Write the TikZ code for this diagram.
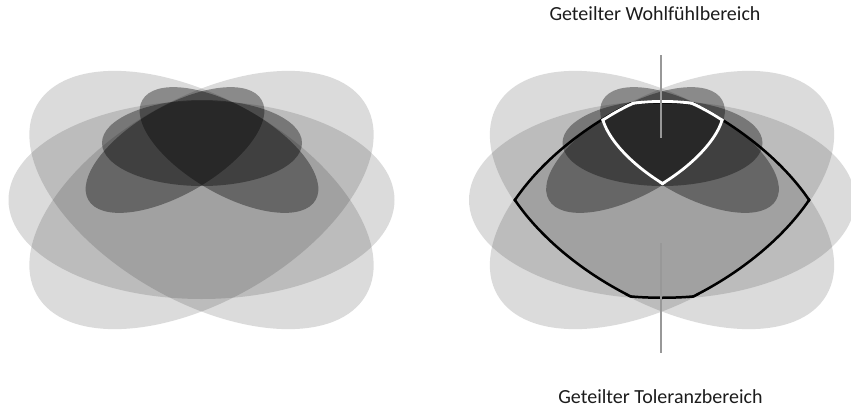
\documentclass[tikz,border=0pt]{standalone}
\usepackage{fontspec}
\setmainfont{Carlito}
\usepackage{tikz}
\definecolor{zoneink}{RGB}{0,0,0}
\definecolor{pointergray}{RGB}{152,152,152}
\definecolor{labelink}{RGB}{28,28,28}
\tikzset{
  tolzone/.style={fill=zoneink,fill opacity=0.14},
  comfzone/.style={fill=zoneink,fill opacity=0.37},
  tolline/.style={draw=black,line width=5pt},
  comfline/.style={draw=white,line width=5.6pt},
  pointer/.style={draw=pointergray,line width=2.4pt},
  lab/.style={font=\fontsize{20}{24}\selectfont,text=labelink,
    inner sep=0pt,anchor=base}
}

\begin{document}
\begin{tikzpicture}[x=1pt,y=1pt]
  \useasboundingbox (0,0) rectangle (851,-407);
  \coordinate (lc) at (201.5,-200);
  \coordinate (lh) at (202,-143);
  \coordinate (ll) at (175,-150);
  \coordinate (lr) at (229,-150);
  \coordinate (rc) at (662,-200);
  \coordinate (rh) at (662.5,-143);
  \coordinate (rl) at (635.5,-150);
  \coordinate (rr) at (689.5,-150);

  % left: tolerance and comfort zones
  \fill[tolzone] (lc) ellipse [x radius=193pt, y radius=99pt];
  \fill[tolzone,rotate around={-30:(lc)}] (lc) ellipse [x radius=190pt, y radius=101pt];
  \fill[tolzone,rotate around={30:(lc)}] (lc) ellipse [x radius=190pt, y radius=101pt];
  \fill[comfzone] (lh) ellipse [x radius=100pt, y radius=43pt];
  \fill[comfzone,rotate around={30:(ll)}] (ll) ellipse [x radius=100pt, y radius=44pt];
  \fill[comfzone,rotate around={-30:(lr)}] (lr) ellipse [x radius=100pt, y radius=44pt];

  % right: same zones
  \fill[tolzone] (rc) ellipse [x radius=193pt, y radius=99pt];
  \fill[tolzone,rotate around={-30:(rc)}] (rc) ellipse [x radius=190pt, y radius=101pt];
  \fill[tolzone,rotate around={30:(rc)}] (rc) ellipse [x radius=190pt, y radius=101pt];
  \fill[comfzone] (rh) ellipse [x radius=100pt, y radius=43pt];
  \fill[comfzone,rotate around={30:(rl)}] (rl) ellipse [x radius=100pt, y radius=44pt];
  \fill[comfzone,rotate around={-30:(rr)}] (rr) ellipse [x radius=100pt, y radius=44pt];

  % shared tolerance area
  \begin{scope}
    \clip (rc) ellipse [x radius=193pt, y radius=99pt];
    \clip[rotate around={-30:(rc)}] (rc) ellipse [x radius=190pt, y radius=101pt];
    \clip[rotate around={30:(rc)}] (rc) ellipse [x radius=190pt, y radius=101pt];
    \draw[tolline] (rc) ellipse [x radius=193pt, y radius=99pt];
    \draw[tolline,rotate around={-30:(rc)}] (rc) ellipse [x radius=190pt, y radius=101pt];
    \draw[tolline,rotate around={30:(rc)}] (rc) ellipse [x radius=190pt, y radius=101pt];
  \end{scope}

  % shared comfort area
  \begin{scope}
    \clip (rh) ellipse [x radius=100pt, y radius=43pt];
    \clip[rotate around={30:(rl)}] (rl) ellipse [x radius=100pt, y radius=44pt];
    \clip[rotate around={-30:(rr)}] (rr) ellipse [x radius=100pt, y radius=44pt];
    \draw[comfline] (rh) ellipse [x radius=100pt, y radius=43pt];
    \draw[comfline,rotate around={30:(rl)}] (rl) ellipse [x radius=100pt, y radius=44pt];
    \draw[comfline,rotate around={-30:(rr)}] (rr) ellipse [x radius=100pt, y radius=44pt];
  \end{scope}

  \node[lab] (wohl) at (655,-20.7) {Geteilter Wohlfühlbereich};
  \node[lab] (toleranz) at (660.5,-403.3) {Geteilter Toleranzbereich};
  \coordinate (wohl-top) at (661,-55);
  \coordinate (wohl-tip) at (661,-138);
  \coordinate (tol-tip) at (661,-243);
  \coordinate (tol-bottom) at (661,-353);
  \draw[pointer] (wohl-top) -- (wohl-tip);
  \draw[pointer] (tol-tip) -- (tol-bottom);
\end{tikzpicture}
\end{document}
